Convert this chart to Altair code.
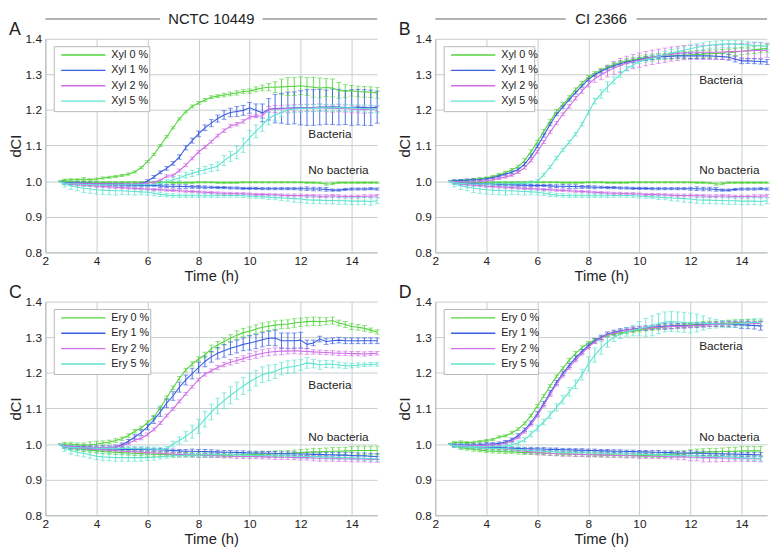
import altair as alt
import pandas as pd

# ---------------- data (dCI x 1000, SD x 1000) ----------------
TIME = [2.5, 2.75, 3.0, 3.25, 3.5, 3.75, 4.0, 4.25, 4.5, 4.75,
        5.0, 5.25, 5.5, 5.75, 6.0, 6.25, 6.5, 6.75, 7.0, 7.25,
        7.5, 7.75, 8.0, 8.25, 8.5, 8.75, 9.0, 9.25, 9.5, 9.75,
        10.0, 10.25, 10.5, 10.75, 11.0, 11.25, 11.5, 11.75, 12.0, 12.25,
        12.5, 12.75, 13.0, 13.25, 13.5, 13.75, 14.0, 14.25, 14.5, 14.75,
        15.0]

STRAINS = ["NCTC 10449", "CI 2366"]
LETTERS = ["A", "B", "C", "D"]
XYL_LABELS = ["Xyl 0 %", "Xyl 1 %", "Xyl 2 %", "Xyl 5 %"]
ERY_LABELS = ["Ery 0 %", "Ery 1 %", "Ery 2 %", "Ery 5 %"]
GROUPS = ["Bacteria", "No bacteria"]
X_TICKS = [2, 4, 6, 8, 10, 12, 14]
Y_TICKS = [0.8, 0.9, 1.0, 1.1, 1.2, 1.3, 1.4]

# ---- Panel A: NCTC 10449, xylitol ----
NCTC_XYL_0 = [1000,1003,1004,1004,1006,1004,1006,1009,1011,1013, 1016,1020,1026,1038,1055,1075,1100,1125,1150,1175, 1195,1210,1220,1228,1236,1239,1242,1245,1248,1252, 1253,1258,1262,1264,1264,1265,1266,1266,1268,1266, 1264,1262,1263,1262,1255,1253,1254,1252,1251,1250, 1248]
NCTC_XYL_0_SD = [0,3,3,3,4,3,3,3,3,3, 3,3,3,3,3,3,3,3,3,3, 3,4,4,4,4,4,5,5,6,6, 6,7,8,10,15,22,25,25,25,25, 28,28,25,25,22,18,15,15,15,15, 15]
NCTC_XYL_1 = [1000,996,995,995,994,994,993,993,992,992, 992,991,991,993,1000,1012,1025,1036,1050,1068, 1094,1114,1133,1150,1163,1176,1186,1193,1196,1199, 1206,1199,1192,1202,1204,1205,1205,1206,1206,1207, 1207,1208,1208,1209,1208,1207,1207,1208,1207,1206, 1208]
NCTC_XYL_1_SD = [0,4,4,4,4,4,4,4,4,4, 4,4,4,4,4,4,4,5,5,6, 6,7,8,8,10,10,12,12,14,14, 15,18,25,30,40,42,45,45,48,50, 50,50,48,50,50,48,50,50,50,50, 45]
NCTC_XYL_2 = [1000,995,994,994,993,993,993,993,992,992, 992,992,992,993,995,997,1003,1014,1016,1030, 1045,1064,1082,1096,1111,1128,1142,1155,1160,1168, 1180,1183,1184,1202,1203,1203,1204,1205,1205,1206, 1206,1207,1205,1204,1205,1204,1202,1202,1201,1202, 1203]
NCTC_XYL_2_SD = [0,3,3,3,3,3,3,3,3,3, 3,3,3,3,3,3,3,4,4,4, 4,4,4,4,4,4,5,5,5,5, 5,5,6,8,10,10,10,10,10,10, 10,10,10,10,10,10,10,10,10,10, 8]
NCTC_XYL_5 = [1000,995,993,992,991,991,990,990,990,990, 990,990,990,990,990,991,994,998,1004,1009, 1017,1022,1027,1032,1037,1042,1058,1070,1081,1101, 1122,1140,1158,1176,1186,1193,1201,1203,1204,1205, 1205,1206,1206,1206,1207,1206,1206,1205,1204,1203, 1202]
NCTC_XYL_5_SD = [0,5,5,5,5,5,5,5,5,5, 5,5,5,5,6,6,7,7,8,8, 8,9,9,10,10,12,14,14,18,20, 20,18,18,18,15,12,10,10,10,10, 10,10,10,10,10,10,10,10,10,10, 10]

# ---- No-bacteria controls, xylitol (panels A and B) ----
NOBACT_XYL_0 = [1000,999,998,997,997,997,997,997,997,997, 997,997,997,997,997,997,997,997,996,996, 996,996,997,997,997,996,996,996,996,997, 997,997,997,997,997,997,997,997,997,996, 996,995,992,993,996,996,996,996,996,996, 996]
NOBACT_XYL_0_SD = [0,2,2,2,2,2,2,2,2,2, 2,2,2,2,2,2,2,2,2,2, 2,2,2,2,2,2,2,2,2,2, 2,2,2,2,2,2,2,2,2,2, 2,2,3,3,2,2,2,2,2,2, 2]
NOBACT_XYL_1 = [1000,996,995,994,994,993,993,992,991,990, 990,989,989,988,988,988,987,986,986,985, 985,984,984,983,983,982,982,981,981,980, 980,980,979,979,979,979,979,979,979,979, 978,978,977,975,975,977,978,978,978,979, 978]
NOBACT_XYL_1_SD = [0,3,3,3,3,3,3,3,3,3, 3,3,3,3,3,3,4,4,5,5, 5,4,4,4,3,3,3,3,3,3, 3,3,3,3,3,3,3,3,4,5, 5,5,5,3,3,3,3,3,3,3, 3]
NOBACT_XYL_2 = [1000,995,992,990,989,988,986,985,984,983, 982,981,980,979,978,977,976,975,974,973, 972,971,970,969,968,967,966,966,965,965, 964,963,963,962,962,961,960,960,960,959, 959,958,958,959,958,957,957,957,958,958, 959]
NOBACT_XYL_2_SD = [0,3,3,3,3,3,3,3,3,3, 3,3,3,3,3,3,3,3,3,3, 3,3,3,3,3,3,3,3,3,3, 3,3,3,3,3,3,4,4,4,4, 4,4,4,4,4,4,4,4,4,4, 4]
NOBACT_XYL_5 = [1000,992,987,983,980,978,976,975,974,973, 973,972,971,970,969,966,963,961,960,959, 959,959,959,959,959,959,960,960,960,959, 958,957,956,955,954,953,952,951,950,948, 947,947,946,946,945,945,944,944,944,943, 945]
NOBACT_XYL_5_SD = [0,8,10,10,12,12,12,12,12,12, 10,10,10,8,8,6,6,5,5,5, 5,5,5,5,5,5,5,5,5,5, 5,5,5,6,6,8,8,10,10,10, 10,10,10,10,10,10,10,10,10,10, 8]

# ---- Panel B: CI 2366, xylitol ----
CI_XYL_0 = [1000,1001,1002,1003,1005,1007,1009,1013,1018,1024, 1032,1041,1058,1083,1110,1140,1168,1196,1216,1235, 1257,1275,1292,1303,1312,1321,1328,1333,1338,1341, 1345,1347,1349,1350,1351,1352,1353,1354,1355,1356, 1357,1358,1359,1360,1361,1363,1365,1367,1369,1371, 1373]
CI_XYL_0_SD = [0,3,3,3,3,3,3,3,4,4, 4,4,5,5,5,5,5,5,5,5, 5,5,5,5,5,5,5,6,6,7, 7,8,8,8,8,9,9,10,10,10, 10,10,10,10,10,10,10,10,10,10, 10]
CI_XYL_1 = [1000,1001,1002,1003,1004,1005,1007,1010,1015,1020, 1025,1033,1048,1070,1098,1128,1160,1188,1209,1229, 1249,1268,1286,1299,1309,1317,1324,1330,1335,1338, 1342,1345,1347,1349,1350,1351,1352,1352,1352,1352, 1352,1352,1351,1350,1348,1343,1338,1338,1337,1336, 1335]
CI_XYL_1_SD = [0,3,3,3,3,3,3,3,3,3, 4,4,4,4,4,4,4,4,4,4, 4,4,4,4,5,5,5,5,5,5, 5,5,5,5,6,6,6,6,7,7, 8,8,8,8,8,8,8,7,7,7, 7]
CI_XYL_2 = [1000,999,998,998,998,999,1001,1004,1008,1012, 1017,1025,1038,1058,1083,1110,1138,1163,1188,1210, 1233,1253,1273,1288,1299,1309,1318,1325,1331,1336, 1340,1344,1348,1351,1354,1357,1359,1361,1362,1362, 1362,1362,1362,1363,1364,1364,1365,1366,1367,1367, 1368]
CI_XYL_2_SD = [0,3,3,3,3,3,3,3,3,3, 3,3,4,4,4,4,4,4,4,5, 5,6,8,10,14,16,18,20,20,20, 20,20,20,20,20,20,20,20,20,20, 20,20,20,20,22,22,22,22,22,22, 20]
CI_XYL_5 = [1000,996,994,993,992,992,992,992,993,993, 993,994,994,996,1000,1018,1040,1065,1088,1110, 1132,1160,1193,1225,1245,1265,1283,1300,1316,1326, 1336,1341,1345,1350,1355,1360,1364,1368,1372,1376, 1379,1382,1384,1385,1385,1385,1384,1383,1381,1380, 1378]
CI_XYL_5_SD = [0,5,6,6,6,6,6,5,5,5, 5,5,5,5,4,4,4,5,5,5, 5,5,6,8,12,14,10,8,6,6, 6,6,8,8,10,10,10,10,10,10, 10,10,10,10,10,10,10,10,10,10, 8]

# ---- Panel C: NCTC 10449, erythritol ----
NCTC_ERY_0 = [1000,1000,1000,998,997,998,1000,1003,1006,1010, 1015,1024,1036,1045,1060,1075,1102,1130,1158,1185, 1208,1225,1239,1250,1268,1278,1288,1297,1306,1313, 1317,1323,1328,1331,1334,1336,1337,1340,1342,1344, 1345,1344,1345,1347,1340,1336,1330,1328,1325,1320, 1315]
NCTC_ERY_0_SD = [0,5,5,5,6,8,8,6,5,5, 5,5,5,5,5,5,5,5,5,5, 5,6,6,8,10,10,10,10,12,12, 12,12,12,12,12,12,12,12,12,12, 12,12,10,10,8,8,8,8,8,6, 6]
NCTC_ERY_1 = [1000,993,992,992,992,991,990,990,990,992, 998,1008,1020,1032,1048,1068,1090,1115,1135,1160, 1180,1198,1215,1232,1245,1255,1262,1269,1274,1280, 1284,1288,1293,1297,1298,1290,1290,1290,1292,1280, 1284,1295,1288,1290,1292,1290,1290,1290,1290,1290, 1290]
NCTC_ERY_1_SD = [0,5,5,5,5,5,5,5,5,5, 5,5,6,8,8,10,12,12,12,14, 14,15,15,15,15,16,18,18,18,18, 20,20,20,20,22,22,22,22,22,12, 8,8,8,8,8,8,8,8,8,8, 8]
NCTC_ERY_2 = [1000,995,993,992,991,990,990,990,990,992, 995,1002,1011,1016,1027,1041,1059,1080,1099,1120, 1141,1161,1181,1196,1206,1215,1223,1230,1235,1240, 1246,1251,1255,1258,1260,1261,1261,1262,1261,1260, 1259,1258,1257,1256,1255,1255,1254,1254,1253,1254, 1255]
NCTC_ERY_2_SD = [0,4,4,4,4,4,4,4,4,4, 4,4,4,4,4,4,4,4,4,4, 4,4,4,5,5,6,6,8,8,8, 8,10,10,10,10,10,8,8,8,8, 6,6,6,6,6,6,6,6,6,6, 5]
NCTC_ERY_5 = [1000,993,990,990,989,989,988,988,988,988, 988,988,987,987,986,986,985,987,1000,1010, 1022,1035,1050,1070,1090,1107,1122,1137,1150,1163, 1175,1185,1195,1200,1204,1212,1216,1218,1222,1228, 1226,1222,1225,1224,1222,1220,1220,1222,1223,1224, 1224]
NCTC_ERY_5_SD = [0,6,6,6,6,6,6,6,6,6, 6,6,6,6,6,6,6,6,8,10, 14,18,20,22,22,22,22,24,24,24, 24,22,22,22,20,18,18,18,15,15, 12,12,10,10,8,8,6,6,5,5, 5]

# ---- No-bacteria controls, erythritol, panel C ----
NOBACT_ERY_C_0 = [1000,995,990,987,985,983,981,979,978,977, 976,975,974,973,972,972,971,971,970,970, 970,969,969,969,969,969,969,969,970,970, 971,971,972,972,973,973,974,975,976,977, 978,978,979,980,980,981,981,982,982,982, 982]
NOBACT_ERY_C_0_SD = [0,4,5,5,6,6,6,6,6,6, 6,6,6,6,6,6,6,6,6,6, 6,6,6,6,6,6,6,6,6,6, 7,7,7,8,8,8,8,8,9,9, 10,10,10,10,10,10,12,12,12,12, 12]
NOBACT_ERY_C_1 = [1000,995,992,990,989,988,987,987,986,986, 985,985,985,985,985,984,984,983,982,981, 980,980,979,979,978,978,977,977,976,976, 975,975,975,974,974,973,973,973,972,972, 971,971,970,970,969,969,968,967,967,966, 965]
NOBACT_ERY_C_1_SD = [0,4,4,4,4,4,4,4,4,4, 4,4,4,4,4,4,4,4,4,4, 5,6,6,6,6,5,5,5,5,5, 5,5,5,5,5,5,5,5,5,5, 6,6,6,6,7,7,8,8,8,8, 8]
NOBACT_ERY_C_2 = [1000,994,991,989,987,986,985,984,983,982, 980,979,978,977,976,975,974,973,972,971, 970,969,968,968,967,967,966,966,965,965, 965,965,964,964,963,963,963,962,962,962, 961,960,960,960,959,959,958,958,958,957, 957]
NOBACT_ERY_C_2_SD = [0,4,4,4,4,4,4,4,4,4, 4,4,4,4,4,4,4,4,4,4, 4,4,5,5,5,5,5,5,6,6, 6,6,6,6,6,6,6,6,7,7, 8,8,8,8,8,8,8,8,8,8, 8]
NOBACT_ERY_C_5 = [1000,988,982,977,974,970,966,964,963,962, 962,962,962,962,962,963,964,966,967,968, 968,969,969,970,970,970,970,970,970,969, 969,968,968,968,967,967,967,966,966,965, 965,964,964,963,963,962,962,961,960,959, 958]
NOBACT_ERY_C_5_SD = [0,8,10,10,10,10,10,10,10,10, 10,10,10,10,8,8,6,6,5,5, 5,5,5,5,5,5,5,5,5,5, 5,5,5,5,5,5,5,5,6,6, 6,6,6,6,6,6,6,6,6,6, 6]

# ---- Panel D: CI 2366, erythritol (to 14.75 h) ----
CI_ERY_0 = [1000,1004,1006,1004,1005,1007,1010,1013,1020,1023, 1032,1042,1058,1080,1107,1135,1163,1190,1213,1236, 1255,1271,1283,1292,1298,1305,1310,1313,1315,1318, 1320,1323,1325,1327,1329,1330,1332,1334,1335,1336, 1337,1338,1338,1339,1340,1341,1342,1342,1341,1340]
CI_ERY_0_SD = [0,3,3,3,3,3,3,3,3,3, 4,4,4,4,4,4,4,4,4,5, 5,5,5,5,5,5,5,5,5,5, 5,5,5,6,6,6,6,6,6,6, 7,7,7,7,8,8,8,8,8,8]
CI_ERY_1 = [1000,998,997,997,997,998,1000,1000,1002,1006, 1012,1024,1040,1060,1085,1114,1144,1173,1199,1221, 1242,1260,1277,1290,1300,1309,1314,1318,1321,1323, 1325,1326,1328,1330,1331,1332,1332,1332,1333,1334, 1335,1336,1337,1337,1337,1336,1335,1334,1333,1332]
CI_ERY_1_SD = [0,4,4,4,4,4,4,4,4,4, 5,5,5,5,6,6,6,6,6,6, 6,6,6,6,6,6,6,6,6,6, 6,6,6,6,8,8,6,6,6,6, 6,6,6,6,8,8,10,10,10,12]
CI_ERY_2 = [1000,997,996,996,996,996,997,998,999,1003, 1008,1019,1035,1055,1080,1109,1139,1168,1193,1215, 1236,1255,1272,1287,1297,1307,1312,1316,1320,1322, 1324,1325,1327,1328,1329,1330,1331,1331,1332,1333, 1334,1335,1336,1337,1338,1339,1340,1340,1339,1338]
CI_ERY_2_SD = [0,3,3,3,3,3,3,3,3,3, 4,4,4,4,4,5,5,5,5,5, 5,5,5,5,5,5,5,5,5,5, 5,5,5,5,5,5,5,5,5,5, 5,5,5,5,6,6,6,6,6,6]
CI_ERY_5 = [1000,996,995,994,993,993,993,993,994,995, 998,1003,1012,1028,1045,1062,1082,1103,1125,1147, 1168,1195,1225,1250,1270,1287,1300,1308,1315,1319, 1324,1328,1332,1338,1343,1344,1343,1342,1340,1340, 1340,1339,1338,1337,1337,1338,1339,1341,1342,1342]
CI_ERY_5_SD = [0,5,5,5,5,5,5,5,5,5, 5,6,6,8,8,8,10,10,12,12, 12,15,20,20,18,15,12,12,12,15, 20,25,28,28,28,28,28,28,28,25, 20,15,12,10,10,10,10,10,10,10]

# ---- No-bacteria controls, erythritol, panel D ----
NOBACT_ERY_D_0 = [1000,995,990,988,985,983,981,980,979,978, 978,977,976,976,975,975,974,973,972,972, 971,971,970,970,970,969,969,969,968,968, 968,968,969,969,970,971,972,973,975,976, 977,978,978,979,980,980,981,981,981,981]
NOBACT_ERY_D_0_SD = [0,4,5,5,5,5,5,5,5,5, 5,5,5,5,5,5,5,5,5,5, 5,5,5,5,5,5,5,5,5,5, 6,6,6,7,7,8,8,8,9,10, 10,10,10,10,11,11,12,12,12,12]
NOBACT_ERY_D_1 = [1000,996,994,993,992,992,991,990,990,989, 988,988,987,987,986,986,985,985,984,984, 983,983,982,982,981,981,980,980,979,979, 978,978,977,977,976,976,975,975,975,974, 974,973,973,973,972,972,971,971,970,970]
NOBACT_ERY_D_1_SD = [0,3,3,3,3,3,3,3,3,3, 3,3,4,4,4,4,4,4,4,4, 4,4,4,4,4,4,4,4,4,4, 4,4,5,5,5,5,5,5,6,6, 6,6,6,6,6,6,6,6,6,6]
NOBACT_ERY_D_2 = [1000,995,993,992,991,990,989,988,987,986, 985,982,980,978,976,975,974,973,972,972, 971,971,970,970,969,969,968,968,967,967, 966,966,966,965,965,964,964,964,963,963, 962,962,962,961,961,960,960,959,959,958]
NOBACT_ERY_D_2_SD = [0,4,4,4,4,4,4,4,4,4, 5,5,6,6,6,6,6,6,6,6, 6,6,6,6,6,6,6,6,6,6, 6,6,6,6,6,6,8,8,10,10, 12,12,12,10,10,8,8,8,8,8]
NOBACT_ERY_D_5 = [1000,994,992,991,990,989,988,988,988,987, 986,985,983,982,981,980,979,978,977,977, 976,976,975,975,974,974,973,973,972,972, 971,971,970,970,969,969,968,968,967,967, 966,966,965,965,964,963,962,961,960,959]
NOBACT_ERY_D_5_SD = [0,4,5,5,5,5,5,5,5,5, 6,6,6,6,6,6,5,5,5,5, 5,5,5,5,5,5,5,5,5,5, 5,5,5,5,5,5,5,5,6,6, 6,6,6,6,6,6,6,6,6,6]

# ---------------- styling ----------------
COLORS = ["#55d43f", "#3a5ee0", "#cf6fe6", "#5fe3cf"]
FONT = "Liberation Sans"
TEXT = "#222222"
W, H = 337, 217

one = pd.DataFrame({"k": [0]})

XS = alt.Scale(domain=[2, 15], nice=False, zero=False)
YS = alt.Scale(domain=[0.8, 1.4], nice=False, zero=False)
XAX = alt.Axis(values=X_TICKS, title="Time (h)", titleFontWeight="normal")
YAX = alt.Axis(values=Y_TICKS, format=".1f", title="dCI", titleFontWeight="normal")


def X(f):
    return alt.X(f, scale=XS, axis=XAX)


def Y(f):
    return alt.Y(f, scale=YS, axis=YAX)


def build_panel(letter, header, header_gap, labels, bact, bact_sd, ctrl, ctrl_sd, ann, leg_w):
    rows = []
    for k, lab in enumerate(labels):
        for grp, vals, sds in ((GROUPS[0], bact[k], bact_sd[k]), (GROUPS[1], ctrl[k], ctrl_sd[k])):
            for i, (v, s) in enumerate(zip(vals, sds)):
                rows.append({"label": lab, "col": COLORS[k], "group": grp,
                             "series": f"{k}-{grp}", "t": TIME[i], "v": v / 1000.0,
                             "lo": (v - s) / 1000.0, "hi": (v + s) / 1000.0, "sd": s})
    df = pd.DataFrame(rows)
    col = alt.Color("col:N", scale=None, legend=None)

    base = alt.Chart(df)
    layers = []
    eb = base.transform_filter("datum.sd > 0")
    layers.append(eb.mark_rule(strokeWidth=0.9).encode(x=X("t:Q"), y=Y("lo:Q"), y2="hi:Q", color=col))
    layers.append(eb.mark_tick(orient="horizontal", size=5, thickness=0.9).encode(x=X("t:Q"), y=Y("lo:Q"), color=col))
    layers.append(eb.mark_tick(orient="horizontal", size=5, thickness=0.9).encode(x=X("t:Q"), y=Y("hi:Q"), color=col))
    layers.append(base.mark_line(strokeWidth=1.1).encode(
        x=X("t:Q"), y=Y("v:Q"), color=col, detail="series:N", order="t:Q"))

    # annotations "Bacteria" / "No bacteria"
    for txt, tx, ty in ann:
        layers.append(alt.Chart(one).mark_text(text=txt, align="left", baseline="middle",
                                               font=FONT, fontSize=12, color=TEXT)
                      .encode(x=alt.XDatum(tx, scale=XS, axis=XAX),
                              y=alt.YDatum(ty, scale=YS, axis=YAX)))

    # legend box
    layers.append(alt.Chart(one).mark_rect(fill="white", stroke="#b8b8b8", strokeWidth=1).encode(
        x=alt.value(9), x2=alt.value(9 + leg_w), y=alt.value(8), y2=alt.value(74)))
    for k, lab in enumerate(labels):
        yy = 16.5 + 15.6 * k
        layers.append(alt.Chart(one).mark_rule(color=COLORS[k], strokeWidth=1.4).encode(
            x=alt.value(16), x2=alt.value(61), y=alt.value(yy)))
        layers.append(alt.Chart(one).mark_text(text=lab, align="left", baseline="middle",
                                               font=FONT, fontSize=11, color=TEXT).encode(
            x=alt.value(67), y=alt.value(yy)))

    # panel letter
    layers.append(alt.Chart(one).mark_text(text=letter, align="left", baseline="alphabetic",
                                           font=FONT, fontSize=18, color=TEXT).encode(
        x=alt.value(-37), y=alt.value(-4)))

    # strain header with side rules
    if header:
        hy = -20
        layers.append(alt.Chart(one).mark_rule(color="#9a9a9a", strokeWidth=1.5).encode(
            x=alt.value(0), x2=alt.value(W / 2 - header_gap), y=alt.value(hy)))
        layers.append(alt.Chart(one).mark_rule(color="#9a9a9a", strokeWidth=1.5).encode(
            x=alt.value(W / 2 + header_gap), x2=alt.value(W), y=alt.value(hy)))
        layers.append(alt.Chart(one).mark_text(text=header, align="center", baseline="middle",
                                               font=FONT, fontSize=15, color=TEXT).encode(
            x=alt.value(W / 2), y=alt.value(hy)))

    return alt.layer(*layers).properties(width=W, height=H)


pA = build_panel(LETTERS[0], STRAINS[0], 52, XYL_LABELS,
                 [NCTC_XYL_0, NCTC_XYL_1, NCTC_XYL_2, NCTC_XYL_5],
                 [NCTC_XYL_0_SD, NCTC_XYL_1_SD, NCTC_XYL_2_SD, NCTC_XYL_5_SD],
                 [NOBACT_XYL_0, NOBACT_XYL_1, NOBACT_XYL_2, NOBACT_XYL_5],
                 [NOBACT_XYL_0_SD, NOBACT_XYL_1_SD, NOBACT_XYL_2_SD, NOBACT_XYL_5_SD],
                 [("Bacteria", 12.3, 1.132), ("No bacteria", 12.3, 1.032)], 97)
pB = build_panel(LETTERS[1], STRAINS[1], 36, XYL_LABELS,
                 [CI_XYL_0, CI_XYL_1, CI_XYL_2, CI_XYL_5],
                 [CI_XYL_0_SD, CI_XYL_1_SD, CI_XYL_2_SD, CI_XYL_5_SD],
                 [NOBACT_XYL_0, NOBACT_XYL_1, NOBACT_XYL_2, NOBACT_XYL_5],
                 [NOBACT_XYL_0_SD, NOBACT_XYL_1_SD, NOBACT_XYL_2_SD, NOBACT_XYL_5_SD],
                 [("Bacteria", 12.34, 1.284), ("No bacteria", 12.34, 1.032)], 92)
pC = build_panel(LETTERS[2], None, 0, ERY_LABELS,
                 [NCTC_ERY_0, NCTC_ERY_1, NCTC_ERY_2, NCTC_ERY_5],
                 [NCTC_ERY_0_SD, NCTC_ERY_1_SD, NCTC_ERY_2_SD, NCTC_ERY_5_SD],
                 [NOBACT_ERY_C_0, NOBACT_ERY_C_1, NOBACT_ERY_C_2, NOBACT_ERY_C_5],
                 [NOBACT_ERY_C_0_SD, NOBACT_ERY_C_1_SD, NOBACT_ERY_C_2_SD, NOBACT_ERY_C_5_SD],
                 [("Bacteria", 12.3, 1.165), ("No bacteria", 12.3, 1.021)], 98)
pD = build_panel(LETTERS[3], None, 0, ERY_LABELS,
                 [CI_ERY_0, CI_ERY_1, CI_ERY_2, CI_ERY_5],
                 [CI_ERY_0_SD, CI_ERY_1_SD, CI_ERY_2_SD, CI_ERY_5_SD],
                 [NOBACT_ERY_D_0, NOBACT_ERY_D_1, NOBACT_ERY_D_2, NOBACT_ERY_D_5],
                 [NOBACT_ERY_D_0_SD, NOBACT_ERY_D_1_SD, NOBACT_ERY_D_2_SD, NOBACT_ERY_D_5_SD],
                 [("Bacteria", 12.34, 1.274), ("No bacteria", 12.34, 1.021)], 96)

chart = alt.vconcat(
    alt.hconcat(pA, pB, spacing=18),
    alt.hconcat(pC, pD, spacing=18),
    spacing=0,
).properties(padding=0).configure_view(strokeWidth=0).configure_axis(
    labelFont=FONT, titleFont=FONT, labelFontSize=12, titleFontSize=15,
    titleFontWeight="normal", labelColor=TEXT, titleColor=TEXT,
    gridColor="#c6cece", gridWidth=1, domainColor="#b2baba", domainWidth=1,
    tickSize=0, labelFlush=False,
).configure_axisX(labelPadding=3, titlePadding=3).configure_axisY(labelPadding=4, titlePadding=2)

chart.save("out.html", embed_options={"renderer": "svg", "actions": False})
